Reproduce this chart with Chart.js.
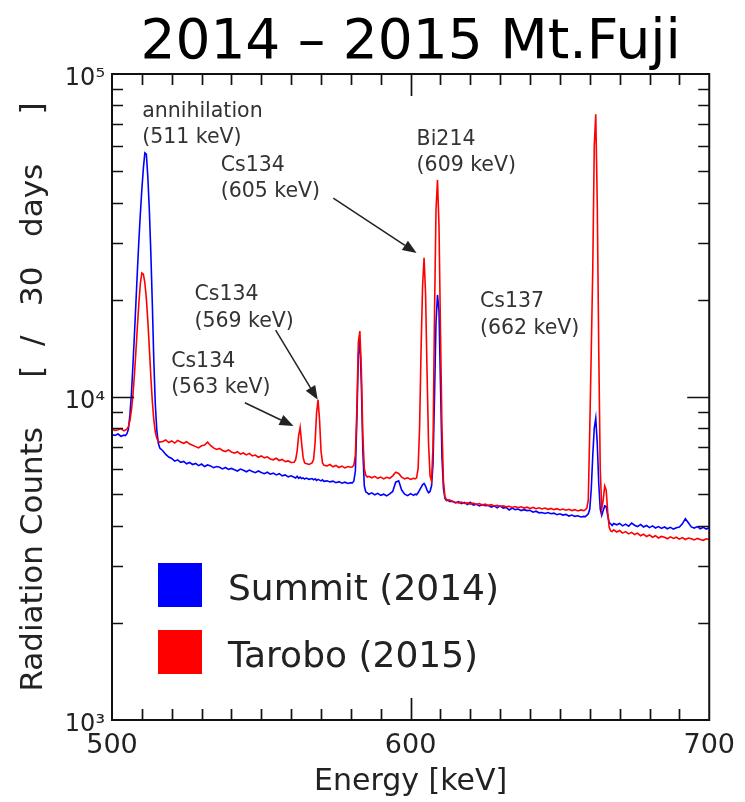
<!DOCTYPE html>
<html><head><meta charset="utf-8">
<script src="https://cdn.jsdelivr.net/npm/chart.js@4"></script>
<style>html,body{margin:0;padding:0;background:#fff}canvas{display:block}</style>
</head><body>
<canvas id="c" width="745" height="802"></canvas>
<script>
// ---- data ----
const energy = [
500,501,502,503,504,
504.5,505,505.5,506,506.5,507,507.5,508,508.5,509,509.5,510,510.5,511,511.5,512,512.5,513,513.5,514,514.5,515,515.5,516,
517,518,519,520,521,522,523,524,525,526,527,528,529,530,531,532,533,534,535,536,537,538,539,540,541,542,543,544,545,546,547,548,549,550,551,552,553,554,555,556,557,558,559,560,
561,561.5,562,562.5,563,563.5,564,564.5,565,566,567,567.5,568,568.5,569,569.5,570,570.5,571,
572,573,574,575,576,577,578,579,580,
580.5,581,581.5,582,582.5,583,583.5,584,584.5,585,585.5,586,
587,588,589,590,591,592,593,594,595,596,597,598,599,600,601,
601.5,602,602.5,603,603.5,604,604.5,605,605.5,606,606.5,607,607.5,608,608.5,609,609.5,610,610.5,611,611.5,612,612.5,613,
614,615,616,617,618,619,620,621,622,623,624,625,626,627,628,629,630,631,632,633,634,635,636,637,638,639,640,641,642,643,644,645,646,647,648,649,650,651,652,653,654,655,656,657,658,
658.5,659,659.5,660,660.5,661,661.5,662,662.5,663,663.5,664,664.5,665,665.5,666,666.5,667,667.5,668,
669,670,671,672,673,674,675,676,677,678,679,680,681,682,683,684,685,686,687,688,689,690,691,692,693,694,695,696,697,698,699,700
];

const summit2014 = [
7650,7600,7680,7560,7620,
7600,7700,7950,8800,10200,12500,15500,19500,24500,30500,37000,44000,51000,57000,56500,48000,38000,28000,19500,13000,9500,7900,7200,6950,
6820,6640,6520,6450,6330,6390,6280,6320,6210,6270,6180,6230,6130,6200,6090,6160,6120,6040,6090,6060,5990,6050,5970,6010,5950,5900,5980,5930,5870,5940,5880,5830,5900,5840,5790,5850,5770,5810,5740,5790,5700,5740,5660,5700,
5640,5610,5680,5600,5650,5590,5620,5570,5610,5560,5590,5540,5580,5520,5560,5530,5500,5540,5480,
5500,5460,5490,5430,5470,5410,5450,5400,5430,
5420,5500,5900,8500,13500,15000,11000,6800,5300,5080,5050,5000,
5050,4980,5030,4960,5000,4940,5010,5100,5450,5500,5150,5000,4950,5020,4960,
5000,4980,5050,5150,5250,5350,5400,5300,5150,5050,5100,5300,6200,10000,17000,20700,18500,11000,6500,5200,4850,4780,4800,4750,
4760,4700,4740,4680,4720,4650,4720,4630,4660,4600,4640,4610,4620,4560,4600,4540,4600,4530,4550,4470,4530,4480,4500,4450,4480,4450,4460,4400,4430,4380,4390,4360,4390,4350,4370,4320,4350,4310,4330,4280,4310,4270,4290,4250,4270,
4260,4300,4350,4500,5200,6600,8000,8600,7200,5400,4500,4300,4450,4600,4580,4300,4080,4050,4000,4060,
4020,4060,3990,4040,3980,4070,4010,3970,4030,3960,4000,3940,3990,3930,3970,3920,3960,3910,3950,3900,3940,3960,4050,4200,4080,3960,3930,3970,3910,3950,3900,3940
];

const tarobo2015 = [
7950,7880,7920,7980,7860,
7900,7950,8100,8450,9100,10100,11700,13800,16500,19500,22500,24200,24000,22600,20200,17200,14200,11600,9700,8500,7800,7450,7300,7250,
7280,7360,7230,7310,7200,7340,7260,7190,7270,7150,7090,7020,6960,7060,7100,7250,7080,6960,6880,6930,6830,6780,6860,6760,6700,6770,6660,6710,6620,6690,6570,6610,6510,6570,6480,6530,6430,6390,6460,6360,6410,6310,6340,6270,
6280,6400,6800,7600,8050,7200,6500,6250,6220,6180,6250,6400,7200,8900,9800,8500,6800,6250,6150,
6120,6180,6080,6140,6050,6110,6030,6090,6060,
6080,6150,6600,9200,14800,16000,12200,7600,6000,5720,5650,5680,
5620,5680,5600,5650,5580,5640,5600,5700,5850,5800,5650,5580,5620,5560,5600,
5580,5620,6000,8000,14000,22000,27000,21000,12000,7200,5700,5500,7000,18000,38000,47000,34000,16000,8000,5500,4900,4820,4780,4800,
4750,4720,4700,4730,4680,4700,4660,4690,4650,4680,4630,4660,4610,4640,4600,4620,4580,4600,4570,4590,4550,4580,4540,4570,4530,4560,4520,4550,4510,4540,4500,4530,4490,4520,4480,4510,4470,4500,4460,4490,4450,4480,4440,4470,4450,
4480,4520,4800,8000,14000,25000,60000,75000,40000,14000,6000,4500,4800,5300,5150,4400,3950,3850,3830,3880,
3820,3860,3790,3830,3770,3810,3750,3790,3720,3760,3700,3740,3680,3720,3660,3700,3680,3640,3690,3650,3680,3630,3670,3620,3660,3640,3610,3650,3620,3600,3640,3620
];

const seriesLabels = ['Summit (2014)', 'Tarobo (2015)'];
const xTickValues = [500, 600, 700];
const yDecades = [1000, 10000, 100000];

// annotations: text anchor [energy, counts], optional arrow in data coords
const annotations = [
  {lines: ['annihilation', '(511 keV)'], at: [510.1, 73600]},
  {lines: ['Cs134', '(605 keV)'], at: [536.4, 50100], arrow: {from: [574.1, 41300], to: [602.0, 27900]}},
  {lines: ['Bi214', '(609 keV)'], at: [602.0, 60300]},
  {lines: ['Cs134', '(569 keV)'], at: [527.6, 19900], arrow: {from: [554.8, 16100], to: [568.9, 9800]}},
  {lines: ['Cs134', '(563 keV)'], at: [519.8, 12400], arrow: {from: [544.5, 9600], to: [560.8, 8130]}},
  {lines: ['Cs137', '(662 keV)'], at: [623.2, 18970]}
];

// ---- chart ----
const FONT = "'DejaVu Sans', Verdana, sans-serif";
Chart.defaults.font.family = FONT;
Chart.defaults.color = '#222';

const sup = {3: '\u00B3', 4: '\u2074', 5: '\u2075'};

const framePlugin = {
  id: 'frame',
  afterDraw(chart) {
    const {ctx, chartArea: a, scales: {x, y}} = chart;
    ctx.save();
    ctx.strokeStyle = '#111';
    ctx.lineWidth = 2;
    ctx.strokeRect(a.left, a.top, a.right - a.left, a.bottom - a.top);
    ctx.lineWidth = 1.7;
    ctx.beginPath();
    for (let v = 510; v < 700; v += 10) {
      const px = Math.round(x.getPixelForValue(v)) + 0.5;
      const len = (v % 100 === 0) ? 22 : 11;
      ctx.moveTo(px, a.bottom); ctx.lineTo(px, a.bottom - len);
      ctx.moveTo(px, a.top); ctx.lineTo(px, a.top + len);
    }
    for (let k = 3; k <= 4; k++) {
      for (let m = 1; m <= 9; m++) {
        const v = m * Math.pow(10, k);
        if (v === 1000) continue;
        const py = Math.round(y.getPixelForValue(v)) + 0.5;
        const len = (m === 1) ? 22 : 11;
        ctx.moveTo(a.left, py); ctx.lineTo(a.left + len, py);
        ctx.moveTo(a.right, py); ctx.lineTo(a.right - len, py);
      }
    }
    ctx.stroke();

    // annotations
    ctx.fillStyle = '#333';
    ctx.strokeStyle = '#222';
    ctx.font = '20.5px ' + FONT;
    ctx.textAlign = 'left';
    ctx.textBaseline = 'alphabetic';
    annotations.forEach(an => {
      const tx = x.getPixelForValue(an.at[0]);
      const ty = y.getPixelForValue(an.at[1]);
      an.lines.forEach((t, i) => ctx.fillText(t, tx, ty + i * 26.5));
      if (an.arrow) {
        const x0 = x.getPixelForValue(an.arrow.from[0]), y0 = y.getPixelForValue(an.arrow.from[1]);
        const x1 = x.getPixelForValue(an.arrow.to[0]), y1 = y.getPixelForValue(an.arrow.to[1]);
        const ang = Math.atan2(y1 - y0, x1 - x0);
        const hl = 14, hw = 5.5;
        const bx = x1 - hl * Math.cos(ang), by = y1 - hl * Math.sin(ang);
        ctx.lineWidth = 1.5;
        ctx.beginPath(); ctx.moveTo(x0, y0); ctx.lineTo(bx, by); ctx.stroke();
        ctx.beginPath();
        ctx.moveTo(x1, y1);
        ctx.lineTo(bx + hw * Math.sin(ang), by - hw * Math.cos(ang));
        ctx.lineTo(bx - hw * Math.sin(ang), by + hw * Math.cos(ang));
        ctx.closePath();
        ctx.fillStyle = '#222';
        ctx.fill();
        ctx.fillStyle = '#333';
      }
    });

    // legend
    const ds = chart.data.datasets;
    ctx.font = '36px ' + FONT;
    ds.forEach((d, i) => {
      const top = a.top + 489 + i * 67;
      ctx.fillStyle = d.borderColor;
      ctx.fillRect(a.left + 46, top, 44, 44);
      ctx.fillStyle = '#222';
      ctx.textBaseline = 'alphabetic';
      ctx.fillText(d.label, a.left + 116, top + 37);
    });
    ctx.restore();
  }
};

new Chart(document.getElementById('c'), {
  type: 'line',
  data: {
    datasets: [
      {label: seriesLabels[0], data: energy.map((e, i) => ({x: e, y: summit2014[i]})),
       borderColor: '#0000ff', borderWidth: 1.6, pointRadius: 0, tension: 0, fill: false, order: 1},
      {label: seriesLabels[1], data: energy.map((e, i) => ({x: e, y: tarobo2015[i]})),
       borderColor: '#ff0000', borderWidth: 1.6, pointRadius: 0, tension: 0, fill: false, order: 0}
    ]
  },
  options: {
    responsive: false,
    animation: false,
    devicePixelRatio: 1,
    layout: {padding: {left: 0, right: 31, top: 0, bottom: 0}},
    plugins: {
      legend: {display: false},
      tooltip: {enabled: false},
      title: {
        display: true, text: '2014 \u2013 2015 Mt.Fuji', fullSize: false,
        color: '#000', font: {size: 55, weight: 'normal', family: FONT, lineHeight: 1},
        padding: {top: 16, bottom: 3}
      }
    },
    scales: {
      x: {
        type: 'linear', min: 500, max: 700,
        grid: {display: false, drawTicks: false}, border: {display: false},
        afterBuildTicks: s => { s.ticks = xTickValues.map(v => ({value: v})); },
        ticks: {font: {size: 27}, color: '#222', padding: 10, maxRotation: 0, autoSkip: false},
        title: {display: true, text: 'Energy [keV]', color: '#222', font: {size: 30}, padding: {top: 0, bottom: 2}},
        afterFit: s => { s.height = 82; }
      },
      y: {
        type: 'logarithmic', min: 1000, max: 100000,
        grid: {display: false, drawTicks: false}, border: {display: false},
        afterBuildTicks: s => { s.ticks = yDecades.map(v => ({value: v})); },
        ticks: {
          font: {size: 24}, color: '#222', padding: 7, autoSkip: false, labelOffset: 5,
          callback: v => '10' + sup[Math.round(Math.log10(v))]
        },
        title: {display: true, text: 'Radiation Counts     [  /   30   days     ]', color: '#222', font: {size: 31}, padding: {top: 15, bottom: 0}},
        afterFit: s => { s.width = 112; }
      }
    }
  },
  plugins: [framePlugin]
});
</script>
</body></html>
